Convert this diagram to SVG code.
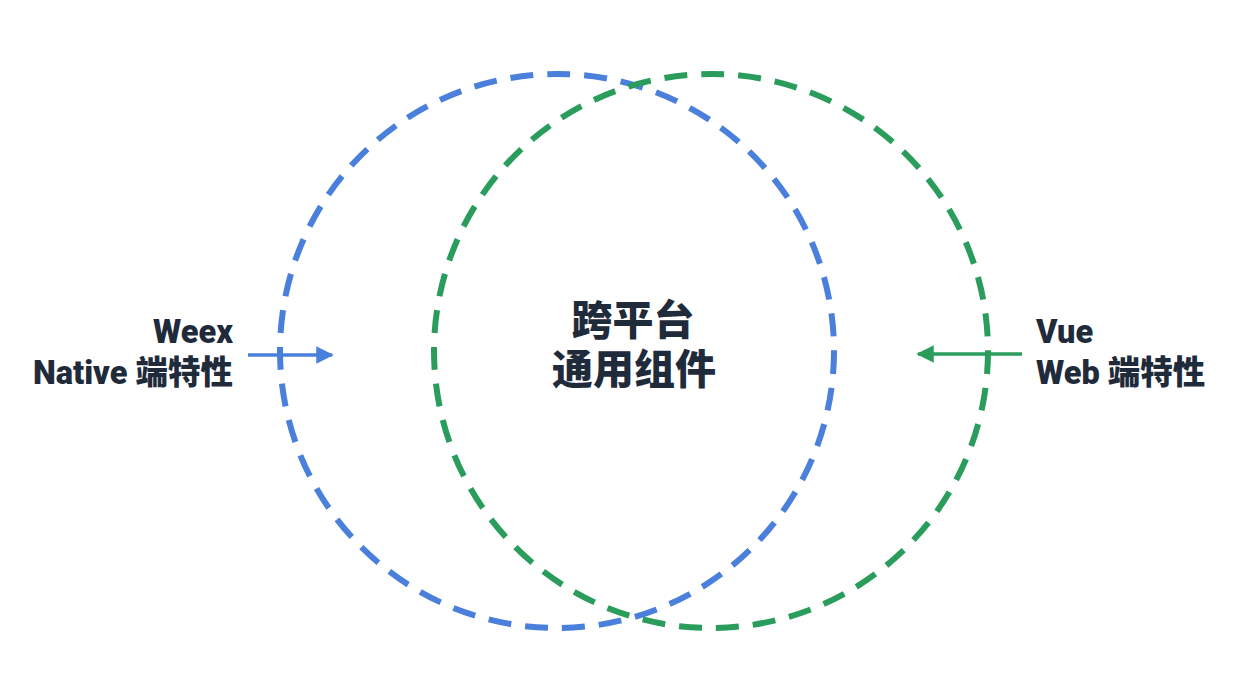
<svg xmlns="http://www.w3.org/2000/svg" width="1240" height="678" viewBox="0 0 1240 678">
<defs>
<style>
.lbl{font-family:Roboto,"Noto Sans CJK SC",sans-serif;font-weight:900;fill:#1f2b3b}
.side{font-size:32.5px}
.mid{font-size:41px}
.ring{fill:none;stroke-width:6;stroke-dasharray:23 14}
</style>
<marker id="ab" viewBox="0 0 10 10" refX="9" refY="5" markerWidth="5" markerHeight="5" orient="auto"><path d="M0,0 L10,5 L0,10 z" fill="#4a7fdc"/></marker>
<marker id="ag" viewBox="0 0 10 10" refX="9" refY="5" markerWidth="5" markerHeight="5" orient="auto"><path d="M0,0 L10,5 L0,10 z" fill="#2a9d5c"/></marker>
</defs>
<rect width="1240" height="678" fill="#ffffff"/>
<g id="native-circle"><circle class="ring" cx="557" cy="351" r="277" stroke="#4a7fdc"/></g>
<g id="web-circle"><circle class="ring" cx="711" cy="351" r="277" stroke="#2a9d5c"/></g>
<g id="connectors">
<line x1="248" y1="355" x2="332" y2="355" stroke="#4a7fdc" stroke-width="3.5" marker-end="url(#ab)"/>
<line x1="1022" y1="354" x2="918" y2="354" stroke="#2a9d5c" stroke-width="3.5" marker-end="url(#ag)"/>
</g>
<g id="weex-label"><text class="lbl side" text-anchor="end" x="233" y="343">Weex</text><text class="lbl side" text-anchor="end" x="233" y="384">Native 端特性</text></g>
<g id="vue-label"><text class="lbl side" x="1036" y="343">Vue</text><text class="lbl side" x="1036" y="384">Web 端特性</text></g>
<g id="center-label"><text class="lbl mid" text-anchor="middle" x="633" y="335">跨平台</text><text class="lbl mid" text-anchor="middle" x="634" y="384">通用组件</text></g>
</svg>
